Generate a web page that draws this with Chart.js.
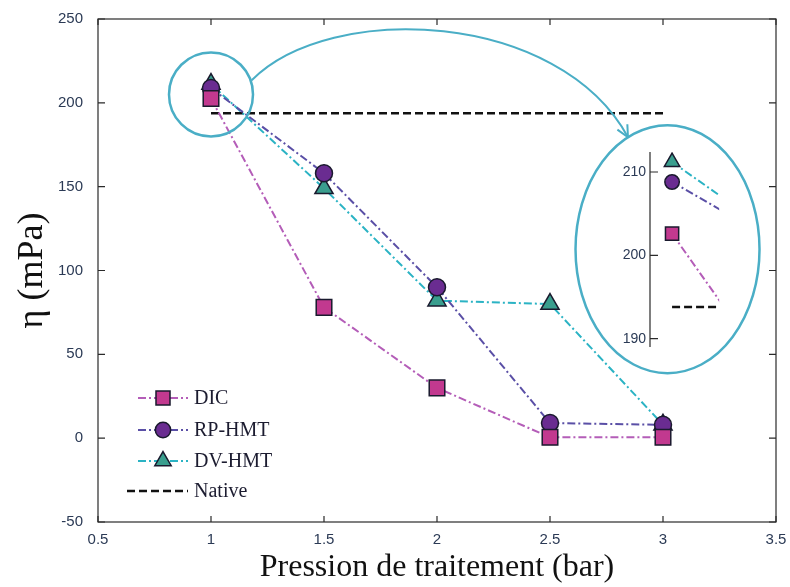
<!DOCTYPE html>
<html>
<head>
<meta charset="utf-8">
<script src="https://cdn.jsdelivr.net/npm/chart.js@4.4.0/dist/chart.umd.min.js"></script>
<style>
  html, body { margin: 0; padding: 0; background: #fff; }
  #wrap { position: relative; width: 790px; height: 587px; }
  #main { position: absolute; left: 0; top: 0; }
  #inset { position: absolute; left: 600px; top: 140px; }
</style>
</head>
<body>
<div id="wrap">
  <canvas id="main" width="790" height="587"></canvas>
  <canvas id="inset" width="130" height="220"></canvas>
</div>
<script>
// data
const pressures = [1, 1.5, 2, 2.5, 3];
const dicValues = [202.6, 78, 30, 0.5, 0.5];
const rpHmtValues = [208.8, 158, 90, 9, 8];
const dvHmtValues = [211.2, 149, 82, 80, 8];
const nativeX = [1, 3];
const nativeValues = [193.8, 193.8];

const xTicks = [0.5, 1, 1.5, 2, 2.5, 3, 3.5];
const yTicks = [-50, 0, 50, 100, 150, 200, 250];
const insetTicks = [190, 200, 210];

// annotation anchors (data units of the main chart)
const zoomCircle = { x: 1, y: 205, r: 42 };
const zoomArrow = [[1.18, 213.5], [1.53, 261], [2.54, 255], [2.845, 179.5]];
const zoomEllipse = { x: 3.02, y: 112.7, rx: 92, ry: 124 };

const TICK_COLOR = '#2b3a55';
const CYAN = '#4aaec6';
const dashDot = [8, 3, 2, 3];

function pairs(xs, ys) {
  return xs.map((x, i) => ({ x: x, y: ys[i] }));
}

// one function so main chart and inset share styles, only marker sizes differ
function makeDatasets(scale) {
  return [
    {
      label: 'DIC',
      data: pairs(pressures, dicValues),
      borderColor: '#b45db8',
      borderWidth: 2,
      borderDash: dashDot,
      pointStyle: 'rect',
      pointRadius: 11 * scale,
      pointBackgroundColor: '#c2398f',
      pointBorderColor: '#1a1a2e',
      pointBorderWidth: 1.5
    },
    {
      label: 'RP-HMT',
      data: pairs(pressures, rpHmtValues),
      borderColor: '#5a4fa6',
      borderWidth: 2,
      borderDash: dashDot,
      pointStyle: 'circle',
      pointRadius: 8.5 * scale,
      pointBackgroundColor: '#6a2c91',
      pointBorderColor: '#1a1a2e',
      pointBorderWidth: 1.5
    },
    {
      label: 'DV-HMT',
      data: pairs(pressures, dvHmtValues),
      borderColor: '#2bb3c4',
      borderWidth: 2,
      borderDash: dashDot,
      pointStyle: 'triangle',
      pointRadius: 10.5 * scale,
      pointBackgroundColor: '#3a9e8e',
      pointBorderColor: '#1a1a2e',
      pointBorderWidth: 1.5
    },
    {
      label: 'Native',
      data: pairs(nativeX, nativeValues),
      borderColor: '#111',
      borderWidth: 2.5,
      borderDash: [8, 4],
      pointRadius: 0
    }
  ];
}

// box with inward MATLAB-like ticks
const framePlugin = {
  id: 'frame',
  beforeDatasetsDraw(chart) {
    const { ctx, chartArea: a, scales: { x, y } } = chart;
    ctx.save();
    ctx.strokeStyle = '#2a2a2a';
    ctx.lineWidth = 1.2;
    ctx.strokeRect(a.left, a.top, a.right - a.left, a.bottom - a.top);
    ctx.beginPath();
    xTicks.forEach(v => {
      const px = x.getPixelForValue(v);
      ctx.moveTo(px, a.bottom); ctx.lineTo(px, a.bottom - 6);
      ctx.moveTo(px, a.top); ctx.lineTo(px, a.top + 6);
    });
    yTicks.forEach(v => {
      const py = y.getPixelForValue(v);
      ctx.moveTo(a.left, py); ctx.lineTo(a.left + 7, py);
      ctx.moveTo(a.right, py); ctx.lineTo(a.right - 7, py);
    });
    ctx.stroke();
    ctx.restore();
  }
};

// legend in the lower left corner + zoom circle / arrow / ellipse
const overlayPlugin = {
  id: 'overlay',
  afterDraw(chart) {
    const { ctx, chartArea: a, scales: { x, y } } = chart;
    const sets = chart.data.datasets;

    ctx.save();
    // legend
    const rowY = [a.bottom - 124, a.bottom - 92, a.bottom - 61, a.bottom - 31];
    ctx.font = '20px "Liberation Serif", "Times New Roman", serif';
    ctx.textBaseline = 'middle';
    sets.forEach((ds, i) => {
      const yy = rowY[i];
      ctx.save();
      ctx.strokeStyle = ds.borderColor;
      ctx.lineWidth = ds.borderWidth;
      ctx.setLineDash(ds.borderDash);
      ctx.beginPath();
      ctx.moveTo(a.left + (ds.pointRadius ? 40 : 29), yy);
      ctx.lineTo(a.left + 90, yy);
      ctx.stroke();
      ctx.restore();
      if (ds.pointRadius) {
        ctx.save();
        ctx.fillStyle = ds.pointBackgroundColor;
        ctx.strokeStyle = ds.pointBorderColor;
        ctx.lineWidth = ds.pointBorderWidth;
        Chart.helpers.drawPoint(ctx, {
          pointStyle: ds.pointStyle,
          radius: ds.pointRadius * 0.9,
          rotation: 0,
          borderWidth: ds.pointBorderWidth
        }, a.left + 65, yy);
        ctx.restore();
      }
      ctx.fillStyle = '#1c1c30';
      ctx.fillText(ds.label, a.left + 96, yy + 1);
    });

    // zoom annotation
    ctx.strokeStyle = CYAN;
    ctx.lineWidth = 2.5;
    ctx.beginPath();
    ctx.arc(x.getPixelForValue(zoomCircle.x), y.getPixelForValue(zoomCircle.y), zoomCircle.r, 0, Math.PI * 2);
    ctx.stroke();

    const p = zoomArrow.map(q => [x.getPixelForValue(q[0]), y.getPixelForValue(q[1])]);
    ctx.lineWidth = 2;
    ctx.beginPath();
    ctx.moveTo(p[0][0], p[0][1]);
    ctx.bezierCurveTo(p[1][0], p[1][1], p[2][0], p[2][1], p[3][0], p[3][1]);
    ctx.stroke();
    const ang = Math.atan2(p[3][1] - p[2][1], p[3][0] - p[2][0]);
    ctx.beginPath();
    [0.45, -0.45].forEach(d => {
      ctx.moveTo(p[3][0], p[3][1]);
      ctx.lineTo(p[3][0] - 13 * Math.cos(ang + d), p[3][1] - 13 * Math.sin(ang + d));
    });
    ctx.stroke();

    ctx.lineWidth = 2.5;
    ctx.beginPath();
    ctx.ellipse(x.getPixelForValue(zoomEllipse.x), y.getPixelForValue(zoomEllipse.y),
      zoomEllipse.rx, zoomEllipse.ry, 0, 0, Math.PI * 2);
    ctx.stroke();
    ctx.restore();
  }
};

const tickFont = { family: '"Liberation Sans", Arial, sans-serif', size: 15 };
const titleFont = { family: '"Liberation Serif", "Times New Roman", serif' };

new Chart(document.getElementById('main'), {
  type: 'line',
  data: { datasets: makeDatasets(1) },
  options: {
    responsive: false,
    animation: false,
    events: [],
    layout: { padding: { left: 0, top: 19, right: 14, bottom: 0 } },
    plugins: { legend: { display: false }, tooltip: { enabled: false } },
    scales: {
      x: {
        type: 'linear',
        min: 0.5,
        max: 3.5,
        afterBuildTicks: s => { s.ticks = xTicks.map(v => ({ value: v })); },
        afterFit: s => { s.height = 65; },
        grid: { display: false },
        border: { display: false },
        ticks: { color: TICK_COLOR, font: tickFont, padding: 1, maxRotation: 0, callback: v => String(v) },
        title: { display: true, text: 'Pression de traitement (bar)', color: '#111', font: { ...titleFont, size: 32 }, padding: { top: 0, bottom: 0 } }
      },
      y: {
        type: 'linear',
        min: -50,
        max: 250,
        afterBuildTicks: s => { s.ticks = yTicks.map(v => ({ value: v })); },
        afterFit: s => { s.width = 98; },
        grid: { display: false },
        border: { display: false },
        ticks: { color: TICK_COLOR, font: tickFont, padding: 7, callback: v => String(v) },
        title: { display: true, text: 'η (mPa)', color: '#111', font: { ...titleFont, size: 36 }, padding: { top: 11, bottom: 0 } }
      }
    }
  },
  plugins: [framePlugin, overlayPlugin]
});

// zoomed inset around x = 1
const insetAxisPlugin = {
  id: 'insetAxis',
  afterDraw(chart) {
    const { ctx, chartArea: a, scales: { y } } = chart;
    ctx.save();
    ctx.strokeStyle = '#2a2a2a';
    ctx.lineWidth = 1.2;
    ctx.beginPath();
    ctx.moveTo(a.left, a.top);
    ctx.lineTo(a.left, a.bottom);
    insetTicks.forEach(v => {
      const py = y.getPixelForValue(v);
      ctx.moveTo(a.left, py);
      ctx.lineTo(a.left + 8, py);
    });
    ctx.stroke();
    ctx.fillStyle = TICK_COLOR;
    ctx.font = '14px "Liberation Sans", Arial, sans-serif';
    ctx.textAlign = 'right';
    ctx.textBaseline = 'middle';
    insetTicks.forEach(v => ctx.fillText(String(v), a.left - 4, y.getPixelForValue(v)));
    ctx.restore();
  }
};

new Chart(document.getElementById('inset'), {
  type: 'line',
  data: { datasets: makeDatasets(0.85) },
  options: {
    responsive: false,
    animation: false,
    events: [],
    layout: { padding: { left: 50, top: 12, right: 8, bottom: 13 } },
    plugins: { legend: { display: false }, tooltip: { enabled: false } },
    scales: {
      x: { type: 'linear', min: 0.985, max: 1.032, display: false },
      y: { type: 'linear', min: 189, max: 212.4, display: false }
    }
  },
  plugins: [insetAxisPlugin]
});
</script>
</body>
</html>
